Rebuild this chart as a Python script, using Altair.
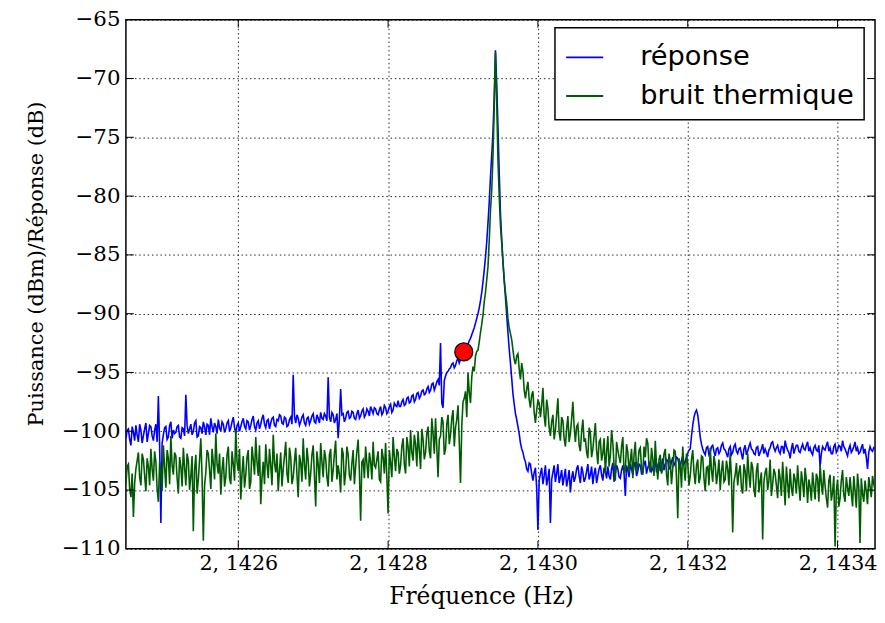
import altair as alt
import numpy as np
import pandas as pd

# Frequency span of the sweep (GHz written as "2, 14xx")
F_START = 2.14245
F_STOP = 2.14345

# Series "réponse" (dB) on an even grid over the span
reponse = [
    -100.6, -99.8, -101.2, -100.1, -99.5, -100.9, -99.9, -100.4, -99.3, -100.2,
    -99.6, -100.8, -99.4, -97.0, -107.8, -100.3, -99.6, -100.5, -99.2, -99.9,
    -100.1, -99.5, -100.6, -99.8, -96.9, -100.2, -99.4, -100.0, -99.1, -100.4,
    -99.7, -99.2, -100.3, -99.5, -98.9, -100.1, -99.6, -99.0, -100.0, -99.4,
    -99.8, -99.1, -99.7, -98.8, -100.2, -99.3, -99.6, -98.9, -99.8, -99.2,
    -99.5, -98.7, -99.9, -99.1, -99.4, -98.6, -99.7, -99.0, -99.3, -98.8,
    -99.6, -99.1, -98.7, -99.4, -98.9, -99.5, -98.8, -95.2, -99.3, -98.9,
    -99.2, -98.6, -99.5, -98.8, -99.1, -98.5, -99.3, -98.9, -98.4, -99.0,
    -98.7, -95.4, -99.2, -98.6, -99.0, -100.6, -96.4, -98.5, -98.9, -98.3,
    -98.8, -98.4, -99.0, -98.2, -98.7, -98.1, -98.6, -98.3, -97.9, -98.5,
    -98.1, -98.6, -97.9, -98.4, -98.0, -98.3, -97.7, -98.2, -97.8, -97.4,
    -97.9, -97.3, -97.7, -97.1, -97.5, -96.9, -97.3, -96.7, -97.0, -96.5,
    -96.8, -96.2, -96.5, -95.9, -96.2, -95.6, -92.5, -98.0, -95.3, -94.9,
    -94.6, -94.2, -94.4, -93.8, -93.9, -93.4, -93.0, -92.6, -92.1, -91.5,
    -90.8, -90.0, -88.9, -87.3, -85.2, -82.3, -78.4, -74.6, -67.6, -74.2,
    -81.5, -85.6, -88.6, -91.6, -94.2, -96.8, -98.5, -99.6, -101.0, -101.8,
    -102.6, -103.4, -102.8, -104.2, -103.1, -108.4, -103.6, -104.5, -102.9, -104.0,
    -107.8, -103.5, -104.3, -102.8, -103.9, -104.6, -103.2, -104.1, -105.2, -103.4,
    -103.9, -102.9, -104.4, -103.5, -104.0, -102.8, -103.7, -104.5, -103.1, -103.8,
    -102.9, -104.2, -103.4, -103.0, -104.1, -102.7, -103.6, -103.2, -104.0, -102.9,
    -105.5, -103.3, -102.8, -103.7, -102.6, -103.4, -102.9, -103.5, -102.5, -103.1,
    -102.6, -103.2, -102.4, -102.9, -103.4, -102.3, -102.8, -102.5, -103.1, -102.2,
    -102.7, -102.3, -102.9, -102.1, -102.6, -101.9, -101.5, -99.5, -98.4, -98.6,
    -100.5, -101.5, -102.0, -101.3, -101.8, -101.2, -102.1, -101.4, -101.7, -101.0,
    -101.6, -102.2, -101.3, -101.8, -101.1, -101.9, -101.4, -102.4, -101.2, -101.7,
    -101.0, -101.6, -102.0, -101.3, -101.8, -101.1, -101.5, -102.2, -101.4, -100.9,
    -101.7, -101.2, -101.9, -101.3, -100.8, -101.6, -102.3, -101.0, -101.5, -101.2,
    -101.8, -101.1, -101.6, -100.9, -101.4, -102.0, -101.2, -101.7, -103.0, -101.3,
    -101.6, -100.9, -101.4, -101.9, -101.1, -101.6, -101.3, -100.8, -101.5, -102.1,
    -101.2, -101.6, -100.9, -101.4, -101.8, -101.1, -101.5, -103.2, -101.3, -101.7,
    -101.5,
]

# "réponse" read half a grid step further right (between the samples above)
reponse_mid = [
    -99.9, -100.7, -99.6, -100.8, -100.3, -99.4, -101.0, -99.8, -100.9, -99.5,
    -100.4, -99.9, -100.9, -101.2, -101.0, -99.7, -100.7, -99.5, -100.6, -100.2,
    -99.6, -100.5, -99.7, -100.4, -99.5, -99.8, -100.3, -99.3, -100.5, -99.6,
    -100.2, -99.6, -99.4, -100.3, -99.6, -99.3, -100.2, -99.7, -99.2, -100.1,
    -99.3, -100.0, -99.2, -99.7, -99.5, -100.0, -99.2, -99.6, -99.1, -99.9,
    -99.0, -99.6, -99.3, -99.8, -98.9, -99.4, -99.1, -99.8, -98.9, -99.5,
    -99.0, -98.6, -99.3, -98.8, -99.6, -99.0, -99.4, -98.7, -98.6, -99.5,
    -98.8, -99.3, -98.9, -99.4, -98.7, -99.2, -98.6, -99.3, -98.9, -98.5,
    -99.1, -98.8, -98.4, -99.3, -98.5, -98.9, -98.6, -99.2, -98.4, -98.9,
    -98.3, -98.9, -98.5, -98.9, -98.3, -98.8, -98.1, -98.7, -98.2, -98.0,
    -98.5, -98.2, -98.6, -97.8, -98.5, -97.9, -98.4, -97.6, -97.9, -97.9,
    -97.5, -97.8, -97.2, -97.6, -97.0, -97.5, -96.8, -97.2, -96.6, -96.9,
    -96.4, -96.7, -96.0, -96.5, -95.8, -96.1, -97.6, -95.7, -95.0, -94.7,
    -94.3, -94.6, -94.0, -94.2, -93.5, -93.2, -92.8, -92.3, -91.8, -91.2,
    -90.4, -89.5, -88.2, -86.3, -83.9, -80.5, -76.5, -71.5, -70.5, -78.0,
    -83.6, -87.2, -90.1, -93.0, -95.5, -97.7, -99.0, -100.2, -101.5, -102.3,
    -103.2, -102.7, -103.6, -103.5, -104.8, -104.2, -103.1, -103.8, -104.6, -103.2,
    -104.1, -102.9, -103.6, -104.4, -103.3, -103.9, -104.7, -103.3, -104.0, -104.3,
    -103.2, -103.8, -103.0, -104.3, -103.4, -104.1, -103.0, -103.6, -104.4, -103.2,
    -103.7, -103.1, -104.0, -103.8, -103.2, -104.3, -102.9, -103.9, -103.3, -103.6,
    -102.9, -103.9, -103.2, -102.9, -103.8, -102.8, -103.6, -102.8, -103.6, -102.8,
    -103.4, -102.7, -103.5, -102.6, -102.8, -103.3, -102.4, -103.2, -102.6, -102.9,
    -102.2, -102.8, -102.5, -102.8, -102.2, -101.6, -100.4, -98.8, -98.2, -99.5,
    -101.1, -101.8, -101.4, -102.0, -101.3, -101.7, -101.5, -101.9, -101.2, -101.5,
    -101.9, -101.5, -102.0, -101.3, -101.7, -101.5, -101.9, -101.5, -102.0, -101.3,
    -101.5, -101.9, -101.4, -102.1, -101.5, -101.9, -101.8, -101.6, -101.0, -101.4,
    -101.4, -101.7, -101.3, -101.9, -101.3, -101.8, -101.5, -101.9, -101.2, -101.7,
    -101.4, -101.5, -101.2, -101.7, -101.8, -101.4, -101.6, -101.2, -101.9, -101.5,
    -101.2, -101.7, -101.9, -101.3, -101.8, -101.2, -101.7, -101.3, -101.8, -101.5,
    -101.8, -101.3, -101.7, -101.9, -101.4, -101.9, -102.2, -101.8, -101.6, -101.4,
]

# Series "bruit thermique" (dBm), same grid
bruit = [
    -104.5, -102.8, -105.6, -107.3, -103.2, -101.8, -104.6, -102.4, -105.1, -103.0,
    -101.5, -104.2, -102.6, -106.0, -103.4, -101.2, -104.8, -102.3, -100.4, -103.7,
    -102.1, -105.3, -103.0, -101.4, -104.6, -102.5, -103.8, -108.5, -102.0, -104.1,
    -100.6, -109.3, -103.5, -101.9, -104.9, -102.7, -100.2, -103.6, -105.4, -102.2,
    -103.9, -101.3, -104.5, -102.8, -99.9, -103.4, -105.8, -102.1, -103.7, -101.6,
    -104.3, -102.4, -100.5, -103.8, -106.2, -102.6, -101.1, -104.0, -102.9, -100.3,
    -103.5, -105.1, -101.8, -103.2, -100.9, -104.4, -102.2, -103.9, -101.4, -105.6,
    -102.7, -100.6, -104.1, -102.5, -103.6, -101.2, -106.4, -102.8, -101.0, -103.9,
    -102.3, -104.7, -101.5, -103.3, -100.8, -102.9, -105.2, -101.9, -103.5, -102.0,
    -104.2, -101.6, -103.0, -100.7, -107.6, -102.4, -101.3, -104.0, -102.6, -100.9,
    -103.1, -101.7, -104.3, -102.2, -101.0, -107.0, -102.7, -100.5, -103.4, -101.8,
    -102.9, -100.6, -103.6, -101.3, -99.9, -102.5, -101.1, -100.0, -103.2, -100.7,
    -101.8, -99.6, -102.3, -100.2, -98.9, -103.9, -100.4, -99.2, -101.5, -98.6,
    -100.3, -98.2, -99.7, -97.8, -104.4, -97.5, -96.6, -95.0, -97.6, -94.5,
    -93.6, -93.1, -91.6, -90.1, -88.2, -86.0, -81.2, -76.6, -67.8, -77.0,
    -82.5, -85.6, -88.2, -90.4, -91.7, -93.1, -94.3, -93.4, -95.6, -94.9,
    -97.2, -95.8, -98.0, -96.6, -99.3, -97.4, -98.8, -96.3, -99.6, -98.1,
    -100.4, -98.6, -99.9, -97.2, -100.8, -99.1, -101.3, -98.7, -100.2, -97.5,
    -100.9, -99.4, -101.7, -99.0, -100.6, -102.3, -100.1, -101.5, -99.3, -102.8,
    -100.7, -101.9, -103.6, -100.4, -102.1, -101.0, -104.2, -101.6, -102.7, -100.5,
    -103.3, -101.8, -102.5, -104.0, -100.9, -102.9, -101.4, -103.7, -102.2, -101.0,
    -103.5, -102.4, -100.8, -104.1, -102.0, -103.2, -101.5, -104.6, -102.6, -103.1,
    -101.7, -107.4, -102.9, -101.3, -104.2, -102.7, -103.8, -101.6, -104.5, -102.4,
    -103.9, -102.2, -105.1, -103.0, -101.4, -104.3, -102.8, -103.6, -105.0, -102.5,
    -104.1, -103.2, -101.8, -108.6, -103.7, -104.6, -102.9, -105.3, -103.4, -101.9,
    -104.8, -103.1, -105.6, -102.7, -104.2, -109.2, -103.5, -105.0, -102.4, -104.5,
    -103.6, -105.7, -104.0, -102.6, -106.3, -104.4, -103.2, -105.5, -104.1, -102.9,
    -105.9, -104.3, -103.1, -106.1, -104.7, -103.5, -105.8, -104.0, -102.8, -105.4,
    -104.6, -106.5, -103.7, -105.2, -109.8, -104.1, -105.7, -103.3, -106.0, -104.8,
    -103.9, -106.4, -105.1, -103.6, -109.5, -105.3, -104.2, -106.2, -104.7, -103.8,
    -105.0,
]

# "bruit thermique" read half a grid step further right
bruit_mid = [
    -103.0, -104.9, -103.6, -104.4, -102.5, -103.9, -101.9, -103.8, -102.3, -104.6,
    -103.2, -101.7, -104.9, -102.6, -105.1, -103.0, -101.6, -104.5, -102.9, -101.8,
    -104.0, -102.2, -104.7, -103.1, -101.9, -105.0, -102.1, -103.3, -105.3, -102.4,
    -103.9, -104.6, -101.6, -103.3, -101.5, -104.1, -102.8, -101.9, -103.3, -104.7,
    -102.0, -104.0, -101.7, -104.2, -102.6, -101.5, -103.6, -104.8, -102.2, -104.9,
    -101.3, -103.7, -102.6, -101.2, -103.9, -104.5, -102.8, -101.5, -104.6, -102.7,
    -101.9, -103.3, -104.7, -102.1, -103.6, -101.4, -104.5, -102.6, -103.7, -102.0,
    -104.3, -102.9, -101.4, -104.7, -102.0, -103.8, -101.7, -104.4, -102.6, -101.6,
    -103.9, -102.0, -104.3, -101.9, -104.1, -103.7, -101.4, -104.6, -101.3, -103.8,
    -102.7, -104.5, -101.7, -103.4, -102.6, -104.0, -102.7, -101.8, -104.1, -102.9,
    -102.4, -104.1, -101.5, -103.6, -103.9, -101.6, -103.9, -102.2, -101.5, -103.6,
    -101.3, -102.8, -100.5, -103.0, -101.8, -100.3, -103.0, -101.6, -99.8, -102.4,
    -100.2, -101.7, -98.9, -101.9, -101.3, -100.7, -98.8, -102.0, -99.4, -101.1,
    -98.9, -101.3, -99.0, -100.9, -99.6, -97.2, -98.8, -96.7, -95.4, -94.9,
    -93.2, -92.4, -90.9, -89.0, -87.1, -83.8, -79.5, -72.5, -72.0, -80.0,
    -84.0, -87.1, -89.1, -91.2, -92.2, -93.9, -93.6, -94.7, -94.2, -96.5,
    -96.4, -97.3, -96.9, -98.4, -98.2, -97.6, -97.8, -98.7, -97.3, -99.7,
    -99.2, -100.7, -98.6, -100.1, -98.8, -100.6, -99.8, -100.9, -98.9, -99.6,
    -99.6, -101.2, -100.0, -100.9, -101.8, -99.7, -102.2, -100.4, -101.6, -100.9,
    -102.5, -100.6, -101.8, -103.0, -99.9, -102.9, -100.9, -102.2, -101.3, -103.6,
    -101.1, -103.5, -101.5, -102.0, -103.4, -101.6, -103.2, -101.3, -100.6, -103.0,
    -101.4, -103.8, -102.9, -102.4, -103.6, -101.9, -103.7, -101.9, -104.5, -101.6,
    -104.0, -102.3, -104.8, -103.1, -101.9, -104.6, -102.4, -103.5, -102.9, -104.4,
    -102.1, -104.0, -103.1, -104.6, -103.3, -102.1, -104.5, -102.4, -103.4, -104.3,
    -102.5, -104.6, -103.9, -104.3, -102.7, -103.5, -104.8, -102.8, -105.1, -103.6,
    -102.6, -104.9, -103.4, -105.2, -103.5, -104.3, -103.1, -104.2, -105.5, -103.2,
    -104.6, -103.2, -105.5, -104.3, -103.0, -105.7, -104.8, -103.6, -105.3, -104.5,
    -103.4, -105.6, -104.2, -104.1, -105.9, -104.6, -103.6, -106.0, -104.4, -103.3,
    -105.7, -104.2, -105.9, -103.8, -105.1, -106.4, -104.2, -105.4, -103.9, -105.5,
    -105.2, -103.8, -106.5, -104.8, -104.0, -106.0, -105.1, -103.9, -105.6, -104.5,
]

series_names = ["réponse", "bruit thermique"]
series_colors = ["#0000ff", "#005c00"]

marker_freq = [2.142901]
marker_db = [-93.25]

x_ticks = [2.1426, 2.1428, 2.1430, 2.1432, 2.1434]
y_ticks = [-110, -105, -100, -95, -90, -85, -80, -75, -70, -65]

W, H = 756, 534
SERIF = "DejaVu Serif"


def series_frame(name, on_grid, between):
    grid = np.linspace(F_START, F_STOP, len(on_grid))
    half = (grid[1] - grid[0]) / 2
    xs = list(grid) + list(grid[:len(between)] + half)
    ys = list(on_grid) + list(between)
    d = pd.DataFrame({"x": xs, "y": ys})
    d = d.sort_values("x").reset_index(drop=True)
    d["serie"] = name
    d["k"] = range(len(d))
    return d


df = pd.concat([
    series_frame("réponse", reponse, reponse_mid),
    series_frame("bruit thermique", bruit, bruit_mid),
], ignore_index=True)

x_axis = alt.Axis(
    values=x_ticks,
    labelExpr="replace(format(datum.value, '.4f'), '.', ', ')",
    title="Fréquence (Hz)",
    grid=True, ticks=False, domain=False,
    gridColor="black", gridDash=[1.5, 2.8], gridWidth=1, gridOpacity=0.85,
    labelFont=SERIF, labelFontSize=20.8, labelColor="black", labelPadding=5,
    labelFlush=False, labelOverlap=False,
    titleFont=SERIF, titleFontSize=23.5, titleFontWeight="normal", titleColor="black",
    titleX=358.5, titleY=55, titleBaseline="alphabetic", titleAlign="center",
)
y_axis = alt.Axis(
    values=y_ticks, format="d",
    title="Puissance (dBm)/Réponse (dB)",
    grid=True, ticks=False, domain=False,
    gridColor="black", gridDash=[1.5, 2.8], gridWidth=1, gridOpacity=0.85,
    labelFont=SERIF, labelFontSize=21.5, labelColor="black", labelPadding=6,
    labelFlush=False, labelOverlap=False,
    titleFont=SERIF, titleFontSize=21, titleFontWeight="normal", titleColor="black",
    titleX=-84, titleY=246, titleAngle=270, titleBaseline="alphabetic", titleAlign="center",
)

X = alt.X("x:Q", scale=alt.Scale(domain=[F_START, F_STOP], nice=False, zero=False), axis=x_axis)
Y = alt.Y("y:Q", scale=alt.Scale(domain=[-110, -65], nice=False, zero=False), axis=y_axis)

lines = alt.Chart(df).mark_line(strokeWidth=1.6, clip=True).encode(
    x=X, y=Y,
    color=alt.Color("serie:N",
                    scale=alt.Scale(domain=series_names, range=series_colors),
                    sort=series_names,
                    legend=alt.Legend(title=None)),
    order="k:Q",
)

point = alt.Chart(pd.DataFrame({"x": marker_freq, "y": marker_db})).mark_circle(
    size=330, color="#ff0000", stroke="black", strokeWidth=1.2, opacity=1
).encode(x=X, y=Y)

xt = pd.DataFrame({"x": x_ticks})
yt = pd.DataFrame({"y": y_ticks[1:-1]})
tick_bottom = alt.Chart(xt).mark_rule(color="black", strokeWidth=1).encode(
    x=X, y=alt.value(H), y2=alt.value(H - 8))
tick_top = alt.Chart(xt).mark_rule(color="black", strokeWidth=1).encode(
    x=X, y=alt.value(0), y2=alt.value(8))
tick_left = alt.Chart(yt).mark_rule(color="black", strokeWidth=1).encode(
    y=Y, x=alt.value(0), x2=alt.value(8))
tick_right = alt.Chart(yt).mark_rule(color="black", strokeWidth=1).encode(
    y=Y, x=alt.value(W), x2=alt.value(W - 8))

chart = alt.layer(lines, point, tick_bottom, tick_top, tick_left, tick_right).properties(
    width=W, height=H,
    autosize=alt.AutoSizeParams(type="none"),
    padding={"left": 119, "top": 9, "right": 2, "bottom": 70},
    background="white",
).configure_view(
    stroke="black", strokeWidth=1.5
).configure_legend(
    orient="none", legendX=433, legendY=8,
    padding=10, strokeColor="black", strokeWidth=1.5, fillColor="white", cornerRadius=0,
    labelFont="DejaVu Sans", labelFontSize=27.5, labelColor="black", labelOffset=36, labelLimit=400,
    symbolType="stroke", symbolSize=1400, symbolStrokeWidth=2, rowPadding=5,
)

chart.save("out.html", embed_options={"renderer": "svg", "actions": False})
